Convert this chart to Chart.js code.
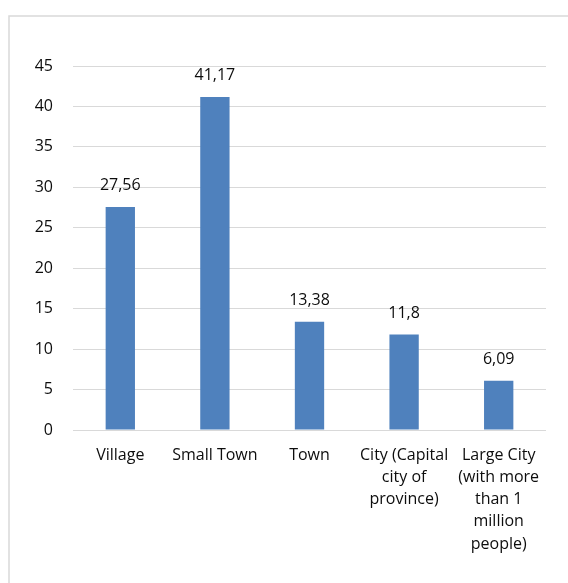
<!DOCTYPE html>
<html>
<head>
<meta charset="utf-8">
<script src="https://cdn.jsdelivr.net/npm/chart.js@4/dist/chart.umd.min.js"></script>
<style>
  html, body { margin: 0; padding: 0; background: #fff; }
  #wrap { position: relative; width: 568px; height: 583px; }
</style>
</head>
<body>
<div id="wrap"><canvas id="chart"></canvas></div>
<script>
var categories = [
  "Village",
  "Small Town",
  "Town",
  ["City (Capital", "city of", "province)"],
  ["Large City", "(with more", "than 1", "million", "people)"]
];
var values = [27.56, 41.17, 13.38, 11.8, 6.09];
var yTicks = [0, 5, 10, 15, 20, 25, 30, 35, 40, 45];

var FONT = "'Open Sans', sans-serif";
var TEXT = '#0d0d0d';

// light grey frame around the whole chart
var frame = {
  id: 'frame',
  beforeDraw: function (chart) {
    var c = chart.ctx;
    c.save();
    c.strokeStyle = '#d9d9d9';
    c.lineWidth = 1.5;
    c.strokeRect(9, 16, 600, 600);
    c.restore();
  }
};

// value labels above each bar, comma as decimal separator
var barLabels = {
  id: 'barLabels',
  afterDatasetsDraw: function (chart) {
    var c = chart.ctx;
    var meta = chart.getDatasetMeta(0);
    c.save();
    c.font = '16px ' + FONT;
    c.fillStyle = TEXT;
    c.textAlign = 'center';
    c.textBaseline = 'alphabetic';
    meta.data.forEach(function (bar, i) {
      var txt = String(values[i]).replace('.', ',');
      c.fillText(txt, bar.x, bar.y - 17);
    });
    c.restore();
  }
};

new Chart(document.getElementById('chart'), {
  type: 'bar',
  data: {
    labels: categories,
    datasets: [{
      data: values,
      backgroundColor: '#4f81bd',
      categoryPercentage: 1,
      barPercentage: 0.31
    }]
  },
  options: {
    responsive: true,
    maintainAspectRatio: false,
    animation: false,
    layout: { padding: { top: 66, right: 22, left: 0, bottom: 0 } },
    plugins: {
      legend: { display: false },
      tooltip: { enabled: false }
    },
    scales: {
      x: {
        grid: { display: false },
        border: { display: false },
        ticks: {
          color: TEXT,
          font: { family: FONT, size: 16, lineHeight: 1.39 },
          padding: 6,
          maxRotation: 0,
          autoSkip: false
        },
        afterFit: function (s) { s.height = 153; }
      },
      y: {
        min: 0,
        max: 45,
        afterBuildTicks: function (s) {
          s.ticks = yTicks.map(function (v) { return { value: v }; });
        },
        grid: { color: '#d9d9d9', lineWidth: 1, drawTicks: false },
        border: { display: false },
        ticks: {
          color: TEXT,
          font: { family: FONT, size: 16 },
          padding: 20
        },
        afterFit: function (s) { s.width = 73; }
      }
    }
  },
  plugins: [frame, barLabels]
});
</script>
</body>
</html>
